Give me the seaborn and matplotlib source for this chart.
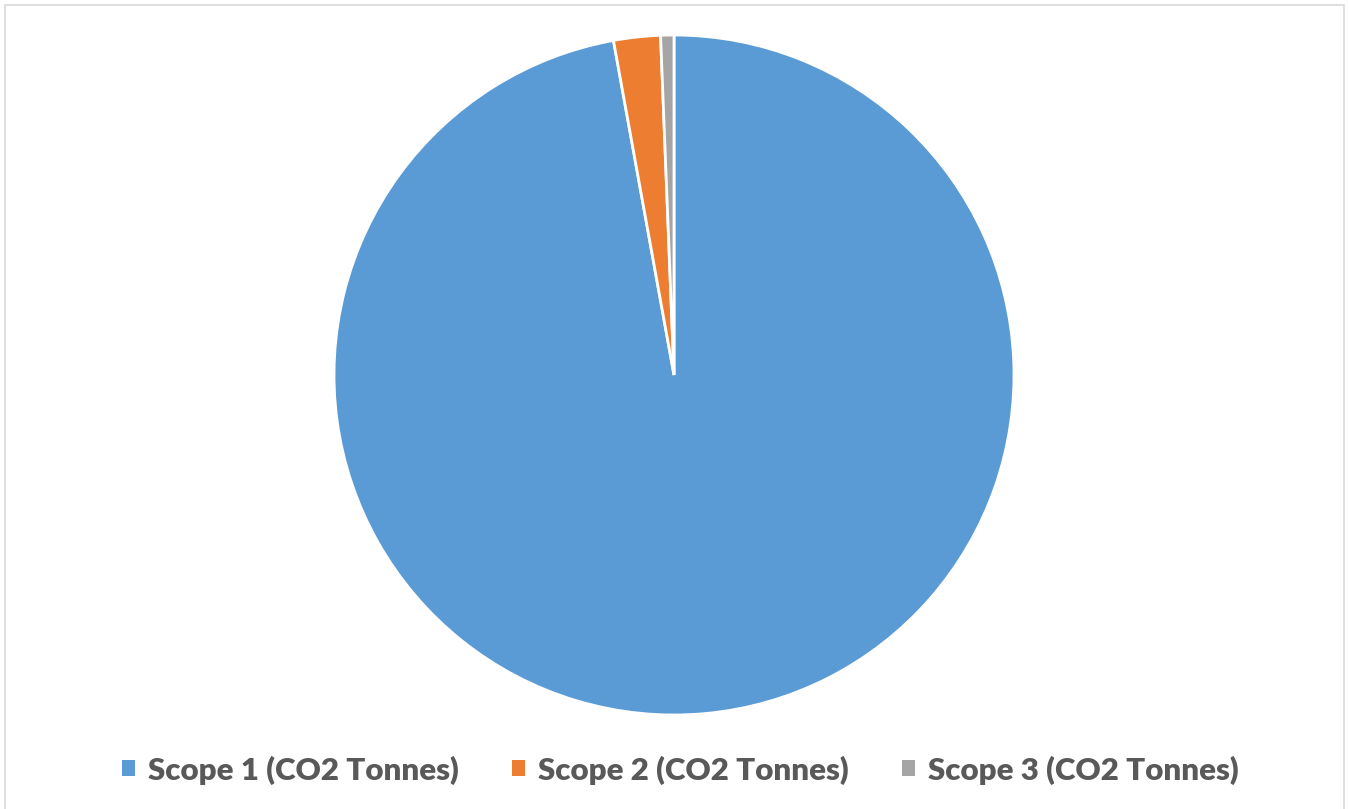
import matplotlib
matplotlib.use("Agg")
import matplotlib.pyplot as plt
import seaborn as sns
from matplotlib.patches import Rectangle

categories = ["Scope 1 (CO2 Tonnes)", "Scope 2 (CO2 Tonnes)", "Scope 3 (CO2 Tonnes)"]
values = [97.15, 2.22, 0.63]
colors = ["#5B9BD5", "#ED7D31", "#A5A5A5"]

sns.set_theme(style="white")
plt.rcParams['font.family'] = ['Lato', 'DejaVu Sans']

W, H, DPI = 1349, 809, 100
fig = plt.figure(figsize=(W / DPI, H / DPI), dpi=DPI)
fig.patch.set_facecolor("white")

cx, cy, r = 674, 375, 340
ax = fig.add_axes([(cx - r) / W, (H - cy - r) / H, 2 * r / W, 2 * r / H])
palette = sns.color_palette(colors)
wedges, _ = ax.pie(values, colors=palette, startangle=90, counterclock=False,
                   wedgeprops=dict(edgecolor="white", linewidth=2))
ax.set_xlim(-1, 1)
ax.set_ylim(-1, 1)
ax.set_aspect("auto")
ax.axis("off")

leg = fig.legend(wedges, categories, loc="center", bbox_to_anchor=(0.5 + 6 / W, 1 - 770 / H),
                 ncol=3, frameon=False, fontsize=22.5, handlelength=0.4, handleheight=0.4,
                 handletextpad=0.42, columnspacing=1.72)
for t in leg.get_texts():
    t.set_color("#595959")
    t.set_fontweight("heavy")
for h in leg.legend_handles:
    h.set_edgecolor("none")
    h.set_linewidth(0)

fig.add_artist(Rectangle((4.5 / W, 1 - 810 / H), 1339 / W, 805 / H, transform=fig.transFigure,
                         fill=False, edgecolor="#D9D9D9", linewidth=1.2))

fig.savefig("out.png", dpi=DPI)
